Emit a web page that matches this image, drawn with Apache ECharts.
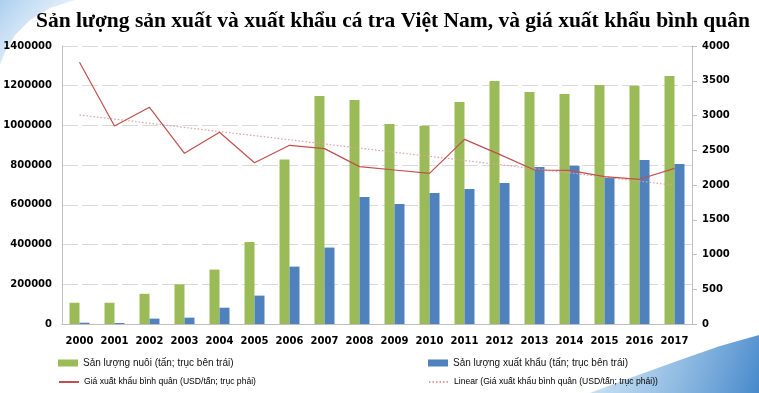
<!DOCTYPE html>
<html><head><meta charset="utf-8">
<script src="https://cdn.jsdelivr.net/npm/echarts@6/dist/echarts.min.js"></script>
<style>html,body{margin:0;padding:0;background:#fff}#c{width:759px;height:393px}</style>
</head><body><div id="c"></div>
<script>
const years = ['2000','2001','2002','2003','2004','2005','2006','2007','2008','2009','2010','2011','2012','2013','2014','2015','2016','2017'];
const farmed = [107000,107000,152000,200000,274000,413000,828000,1148000,1128000,1007000,999000,1118000,1224000,1168000,1158000,1204000,1200000,1249000];
const exported = [6500,5000,27000,32000,82000,143000,289000,385000,640000,604000,660000,680000,710000,791000,797000,737000,826000,806000];
const price = [3765,2849,3118,2456,2758,2321,2571,2523,2264,2216,2168,2657,2440,2216,2210,2120,2082,2240];
const trend = [3007,null,null,null,null,null,null,null,null,null,null,null,null,null,null,null,null,1996];
const leftTicks = {min:0,max:1400000,interval:200000};
const rightTicks = {min:0,max:4000,interval:500};
const names = ['Sản lượng nuôi (tấn; trục bên trái)','Sản lượng xuất khẩu (tấn; trục bên trái)','Giá xuất khẩu bình quân (USD/tấn; trục phải)','Linear (Giá xuất khẩu bình quân (USD/tấn; trục phải))'];
const titleText = 'Sản lượng sản xuất và xuất khẩu cá tra Việt Nam, và giá xuất khẩu bình quân';

function grad(x,y,x2,y2,stops){return {type:'linear',x:x,y:y,x2:x2,y2:y2,colorStops:stops};}
const chart = echarts.init(document.getElementById('c'), null, {renderer:'canvas'});
const legFont1 = {fontFamily:'"Liberation Sans",Arial',fontSize:10,color:'#111',lineHeight:12};
const legFont2 = {fontFamily:'"Liberation Sans",Arial',fontSize:8.6,color:'#000',lineHeight:10};
const axFont = {fontFamily:'"DejaVu Sans"',fontWeight:'bold',fontSize:10,color:'#000'};
const plain = v => String(v);
chart.setOption({
  animation:false,
  backgroundColor:'#fff',
  graphic:[
    {type:'polygon',silent:true,z:-10,shape:{points:[[0,0],[75,0],[50,8],[30,20],[15,35],[5,52],[0,65]]},style:{fill:grad(0,0,1,1,[{offset:0,color:'rgba(150,195,235,0.8)'},{offset:1,color:'rgba(225,238,250,0.2)'}])}},
    {type:'polygon',silent:true,z:-10,shape:{points:[[590,393],[630,378],[680,360],[720,346],[759,335],[759,393]]},style:{fill:grad(0,0,1,1,[{offset:0,color:'rgba(180,215,240,0.6)'},{offset:1,color:'rgba(60,130,200,0.95)'}])}}
  ],
  title:{text:titleText,left:31,top:5,textStyle:{fontFamily:'"Liberation Serif","Times New Roman",serif',fontWeight:'bold',fontSize:21.5,color:'#000'}},
  grid:{left:62,right:67,top:46,bottom:69,containLabel:false,outerBoundsMode:'none'},
  legend:[
    {data:[names[0]],left:58,top:357,padding:0,itemWidth:20,itemHeight:7,icon:'rect',textStyle:legFont1},
    {data:[names[1]],left:428,top:357,padding:0,itemWidth:20,itemHeight:7,icon:'rect',textStyle:legFont1},
    {data:[names[2]],left:58,top:377,padding:0,itemWidth:20,itemHeight:8,itemStyle:{opacity:0},textStyle:legFont2},
    {data:[names[3]],left:428,top:377,padding:0,itemWidth:20,itemHeight:8,itemStyle:{opacity:0},textStyle:legFont2}
  ],
  xAxis:{type:'category',data:years,axisLine:{lineStyle:{color:'#bfbfbf'}},axisTick:{show:false},axisLabel:Object.assign({margin:12,interval:0},axFont)},
  yAxis:[
    {type:'value',min:leftTicks.min,max:leftTicks.max,interval:leftTicks.interval,axisLine:{show:true,lineStyle:{color:'#bfbfbf'}},axisTick:{show:false},axisLabel:Object.assign({margin:10,formatter:plain},axFont),splitLine:{lineStyle:{color:'#d9d9d9',type:[16,4]}}},
    {type:'value',min:rightTicks.min,max:rightTicks.max,interval:rightTicks.interval,position:'right',axisLine:{show:true,lineStyle:{color:'#bfbfbf'}},axisTick:{show:true,length:5,lineStyle:{color:'#bfbfbf'}},axisLabel:Object.assign({margin:10,formatter:plain},axFont),splitLine:{show:false}}
  ],
  series:[
    {name:names[0],type:'bar',data:farmed,barWidth:10,barGap:'0%',itemStyle:{color:'#9bbb59'}},
    {name:names[1],type:'bar',data:exported,barWidth:10,barGap:'0%',itemStyle:{color:'#4f81bd'}},
    {name:names[2],type:'line',yAxisIndex:1,data:price,symbol:'none',lineStyle:{color:'#c0504d',width:1.2},itemStyle:{color:'#c0504d'},z:5},
    {name:names[3],type:'line',yAxisIndex:1,data:trend,connectNulls:true,symbol:'none',lineStyle:{color:'#e0a09e',width:1.2,type:[1.5,2]},itemStyle:{color:'#e0a09e'},z:4}
  ]
});
</script></body></html>
